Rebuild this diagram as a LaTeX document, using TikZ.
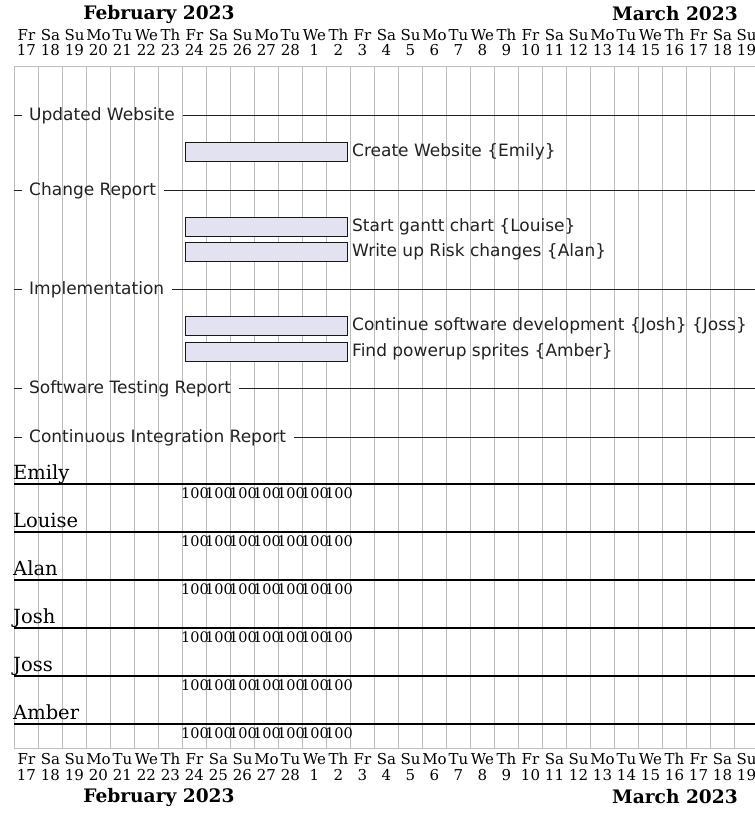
\documentclass[tikz,border=0pt]{standalone}
\usepackage{fontspec}
\setmainfont{DejaVu Serif}
\newfontfamily\labelfont{DejaVu Sans}
\definecolor{gridgray}{HTML}{BDBDBD}
\definecolor{barfill}{HTML}{E2E2F0}
\definecolor{barline}{HTML}{181818}
\definecolor{inkdark}{HTML}{222222}

\tikzset{
  gridline/.style={draw=gridgray, line width=1.2pt},
  dayname/.style={inner sep=0pt, font=\fontsize{15}{15}\selectfont},
  daynum/.style={inner sep=0pt, font=\fontsize{15}{15}\selectfont},
  monthname/.style={inner sep=0pt, font=\bfseries\fontsize{18.6}{18.6}\selectfont},
  seplabel/.style={anchor=west, inner xsep=7pt, inner ysep=0pt, text=inkdark,
    font=\labelfont\fontsize{17}{17}\selectfont},
  sepline/.style={draw=inkdark, line width=1.3pt},
  taskbar/.style={draw=barline, fill=barfill, line width=1pt},
  tasklabel/.style={anchor=west, inner sep=0pt, text=inkdark,
    font=\labelfont\fontsize{17}{17}\selectfont},
  resname/.style={anchor=base west, inner sep=0pt, font=\fontsize{19.5}{19.5}\selectfont},
  resline/.style={draw=black, line width=2pt},
  load/.style={anchor=west, inner sep=0pt, font=\fontsize{14.5}{14.5}\selectfont},
}

\begin{document}
\begin{tikzpicture}[x=1pt, y=-1pt]
\useasboundingbox[fill=white] (0,0) rectangle (755,814);

% day grid
\foreach \i in {0,...,31}
  \draw[gridline] ({14.5+24*\i},66) -- ({14.5+24*\i},749);
\draw[gridline] (14,66.5) -- (758,66.5);
\draw[gridline] (14,748.5) -- (758,748.5);

% calendar header and footer
\foreach \d [count=\i from 0] in {Fr,Sa,Su,Mo,Tu,We,Th,Fr,Sa,Su,Mo,Tu,We,Th,Fr,Sa,Su,Mo,Tu,We,Th,Fr,Sa,Su,Mo,Tu,We,Th,Fr,Sa,Su} {
  \node[dayname] (dt\i) at ({26.5+24*\i},35) {\d};
  \node[dayname] (db\i) at ({26.5+24*\i},759) {\d};
}
\foreach \n [count=\i from 0] in {17,18,19,20,21,22,23,24,25,26,27,28,1,2,3,4,5,6,7,8,9,10,11,12,13,14,15,16,17,18,19} {
  \node[daynum] (nt\i) at ({26.5+24*\i},50) {\n};
  \node[daynum] (nb\i) at ({26.5+24*\i},775) {\n};
}
\node[monthname] (febtop) at (159,14) {February 2023};
\node[monthname] (martop) at (675,14) {March 2023};
\node[monthname] (febbot) at (159,797) {February 2023};
\node[monthname] (marbot) at (675,797) {March 2023};

% separators
\foreach \name/\y/\txt in {s1/115.5/Updated Website, s2/190.5/Change Report,
    s3/289.5/Implementation, s4/388.5/Software Testing Report,
    s5/437.5/Continuous Integration Report} {
  \coordinate (\name l) at (14,\y);
  \coordinate (\name r) at (758,\y);
  \node[seplabel] (\name) at (22,\y) {\txt};
  \draw[sepline] (\name l) -- (\name.west);
  \draw[sepline] ([xshift=1pt]\name.east) -- (\name r);
}

% tasks
\foreach \name/\y/\txt in {t1/152/Create Website \{Emily\},
    t2/227/Start gantt chart \{Louise\},
    t3/252/Write up Risk changes \{Alan\},
    t4/326/Continue software development \{Josh\} \{Joss\},
    t5/352/Find powerup sprites \{Amber\}} {
  \draw[taskbar] (185.5,{\y-9.5}) rectangle (347.5,{\y+9.5});
  \node[tasklabel] (\name) at (352,\y) {\txt};
}

% resources
\foreach \name/\y [count=\k from 0] in {Emily/484, Louise/532, Alan/580,
    Josh/628, Joss/676, Amber/724} {
  \node[resname] (r\k) at (13,{\y-5}) {\name};
  \coordinate (r\k l) at (14,\y);
  \coordinate (r\k r) at (758,\y);
  \draw[resline] (r\k l) -- (r\k r);
  \foreach \j in {0,...,6}
    \node[load] (l\k-\j) at ({181+24*\j},{\y+9}) {100};
}
\end{tikzpicture}
\end{document}
